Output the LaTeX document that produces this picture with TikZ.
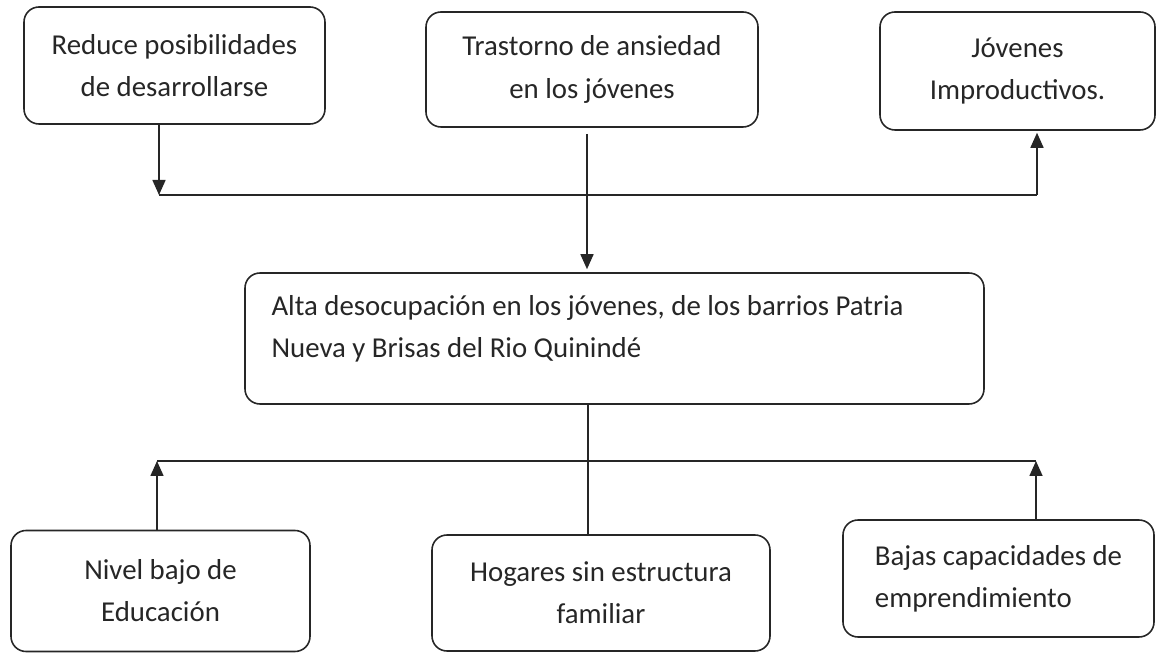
\documentclass[tikz,border=0pt]{standalone}
\usepackage{fontspec}
\setmainfont{Carlito}
\usetikzlibrary{arrows.meta,calc}

\begin{document}
\begin{tikzpicture}[
		caja/.style={draw=black!85, line width=0.9pt, rounded corners=0.3cm, align=center, inner sep=0pt},
		texto/.style={text=black!85, font=\fontsize{16.4}{24}\selectfont},
		flecha/.style={line width=0.9pt, draw=black!85, -{Triangle[width=0.26cm,length=0.3cm]}},
		linea/.style={line width=0.9pt, draw=black!85}
	]
		%%%%% START %%%%%
		\useasboundingbox (0, 0) rectangle (23.14, -13.06);
		
		% efectos
		\node[caja, texto, minimum width=6.02cm, minimum height=2.34cm] (reduce) at (3.49, -1.31) {Reduce posibilidades\\de desarrollarse};
		\node[caja, texto, minimum width=6.64cm, minimum height=2.3cm] (trastorno) at (11.84, -1.39) {Trastorno de ansiedad\\en los jóvenes};
		\node[caja, texto, minimum width=5.5cm, minimum height=2.36cm] (jovenes) at (20.35, -1.42) {Jóvenes\\Improductivos.};
		
		% problema central
		\node[caja, minimum width=14.78cm, minimum height=2.62cm] (problema) at (12.29, -6.77) {};
		\node[texto, anchor=west, align=left, inner sep=0pt] (problemaTxt) at ($(problema.west)+(0.54, 0.19)$) {Alta desocupación en los jóvenes, de los barrios Patria\\Nueva y Brisas del Rio Quinindé};
		
		% causas
		\node[caja, texto, minimum width=5.98cm, minimum height=2.42cm] (nivel) at (3.21, -11.82) {Nivel bajo de\\Educación};
		\node[caja, texto, minimum width=6.76cm, minimum height=2.32cm] (hogares) at (12.02, -11.86) {Hogares sin estructura\\familiar};
		\node[caja, texto, minimum width=6.22cm, minimum height=2.34cm, align=left] (bajas) at (19.97, -11.57) {Bajas capacidades de\\emprendimiento};
		
		% conectores de arriba
		\coordinate (arribaIzq) at (3.18, -3.9);
		\coordinate (arribaDer) at (20.74, -3.9);
		\coordinate (centro) at (11.74, -3.9);
		\draw[flecha] (reduce.south -| arribaIzq) -- (arribaIzq);
		\draw[linea] (arribaIzq) -- (arribaDer);
		\draw[flecha] (arribaDer) -- ([yshift=-0.04cm]jovenes.south -| arribaDer);
		\draw[flecha] ([yshift=-0.12cm]trastorno.south -| centro) -- ([yshift=0.06cm]problema.north -| centro);
		
		% conectores de abajo
		\coordinate (abajoIzq) at (3.14, -9.22);
		\coordinate (abajoDer) at (20.72, -9.22);
		\coordinate (medio) at (11.76, -9.22);
		\draw[linea] (problema.south -| medio) -- (hogares.north -| medio);
		\draw[linea] (abajoIzq) -- (abajoDer);
		\draw[flecha] (nivel.north -| abajoIzq) -- (abajoIzq);
		\draw[flecha] (bajas.north -| abajoDer) -- (abajoDer);
		%%%%% END %%%%%
	\end{tikzpicture}
\end{document}
